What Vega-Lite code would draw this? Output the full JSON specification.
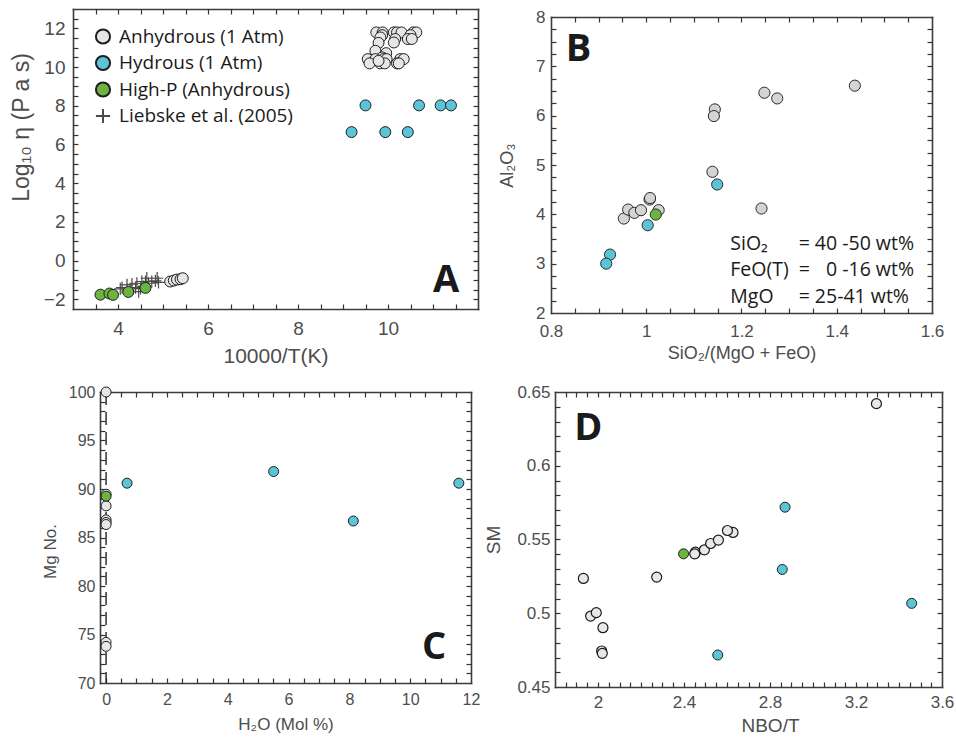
{
  "$schema": "https://vega.github.io/schema/vega-lite/v6.json",
  "background": "white",
  "padding": {"left": 10, "top": 8, "right": 0, "bottom": 0},
  "config": {
    "view": {"stroke": null},
    "font": "Liberation Sans",
    "axis": {
      "grid": false,
      "labelFont": "Liberation Sans",
      "titleFont": "Liberation Sans",
      "labelColor": "#4d4d4d",
      "titleColor": "#4d4d4d",
      "titleFontWeight": "normal",
      "domainColor": "#3c3c3c",
      "domainWidth": 1.6,
      "domainCap": "square",
      "tickColor": "#333333",
      "tickWidth": 1.2,
      "labelFlush": false,
      "labelOverlap": false,
      "labelBound": false
    },
    "legend": {
      "padding": 0,
      "labelFont": "Open Sans",
      "labelFontSize": 19,
      "labelColor": "#1a1a1a",
      "labelLimit": 300,
      "symbolSize": 200,
      "symbolStrokeWidth": 2,
      "rowPadding": 3.5,
      "labelOffset": 6.5
    }
  },
  "datasets": {
    "viscosity": [
      {"invT": 9.74, "logEta": 11.79, "group": "Anhydrous (1 Atm)"},
      {"invT": 9.88, "logEta": 11.79, "group": "Anhydrous (1 Atm)"},
      {"invT": 10.13, "logEta": 11.79, "group": "Anhydrous (1 Atm)"},
      {"invT": 10.2, "logEta": 11.79, "group": "Anhydrous (1 Atm)"},
      {"invT": 10.3, "logEta": 11.79, "group": "Anhydrous (1 Atm)"},
      {"invT": 10.56, "logEta": 11.79, "group": "Anhydrous (1 Atm)"},
      {"invT": 10.63, "logEta": 11.79, "group": "Anhydrous (1 Atm)"},
      {"invT": 9.87, "logEta": 11.65, "group": "Anhydrous (1 Atm)"},
      {"invT": 10.5, "logEta": 11.65, "group": "Anhydrous (1 Atm)"},
      {"invT": 10.16, "logEta": 11.45, "group": "Anhydrous (1 Atm)"},
      {"invT": 10.44, "logEta": 11.45, "group": "Anhydrous (1 Atm)"},
      {"invT": 10.53, "logEta": 11.45, "group": "Anhydrous (1 Atm)"},
      {"invT": 10.13, "logEta": 11.27, "group": "Anhydrous (1 Atm)"},
      {"invT": 9.83, "logEta": 11.53, "group": "Anhydrous (1 Atm)"},
      {"invT": 9.79, "logEta": 11.25, "group": "Anhydrous (1 Atm)"},
      {"invT": 9.72, "logEta": 10.84, "group": "Anhydrous (1 Atm)"},
      {"invT": 9.96, "logEta": 10.72, "group": "Anhydrous (1 Atm)"},
      {"invT": 9.87, "logEta": 10.5, "group": "Anhydrous (1 Atm)"},
      {"invT": 9.55, "logEta": 10.41, "group": "Anhydrous (1 Atm)"},
      {"invT": 9.72, "logEta": 10.41, "group": "Anhydrous (1 Atm)"},
      {"invT": 9.9, "logEta": 10.41, "group": "Anhydrous (1 Atm)"},
      {"invT": 9.97, "logEta": 10.41, "group": "Anhydrous (1 Atm)"},
      {"invT": 10.27, "logEta": 10.41, "group": "Anhydrous (1 Atm)"},
      {"invT": 10.35, "logEta": 10.41, "group": "Anhydrous (1 Atm)"},
      {"invT": 9.59, "logEta": 10.19, "group": "Anhydrous (1 Atm)"},
      {"invT": 9.83, "logEta": 10.19, "group": "Anhydrous (1 Atm)"},
      {"invT": 9.93, "logEta": 10.19, "group": "Anhydrous (1 Atm)"},
      {"invT": 10.2, "logEta": 10.19, "group": "Anhydrous (1 Atm)"},
      {"invT": 10.24, "logEta": 10.19, "group": "Anhydrous (1 Atm)"},
      {"invT": 9.79, "logEta": 10.32, "group": "Anhydrous (1 Atm)"},
      {"invT": 5.16, "logEta": -1.08, "group": "Anhydrous (1 Atm)"},
      {"invT": 5.24, "logEta": -1.03, "group": "Anhydrous (1 Atm)"},
      {"invT": 5.31, "logEta": -0.98, "group": "Anhydrous (1 Atm)"},
      {"invT": 5.39, "logEta": -0.96, "group": "Anhydrous (1 Atm)"},
      {"invT": 5.44, "logEta": -0.91, "group": "Anhydrous (1 Atm)"},
      {"invT": 9.19, "logEta": 6.64, "group": "Hydrous (1 Atm)"},
      {"invT": 9.5, "logEta": 8.02, "group": "Hydrous (1 Atm)"},
      {"invT": 9.94, "logEta": 6.64, "group": "Hydrous (1 Atm)"},
      {"invT": 10.44, "logEta": 6.64, "group": "Hydrous (1 Atm)"},
      {"invT": 10.69, "logEta": 8.02, "group": "Hydrous (1 Atm)"},
      {"invT": 11.17, "logEta": 8.02, "group": "Hydrous (1 Atm)"},
      {"invT": 11.4, "logEta": 8.02, "group": "Hydrous (1 Atm)"},
      {"invT": 3.61, "logEta": -1.76, "group": "High-P (Anhydrous)"},
      {"invT": 3.81, "logEta": -1.7, "group": "High-P (Anhydrous)"},
      {"invT": 3.89, "logEta": -1.77, "group": "High-P (Anhydrous)"},
      {"invT": 4.23, "logEta": -1.62, "group": "High-P (Anhydrous)"},
      {"invT": 4.61, "logEta": -1.41, "group": "High-P (Anhydrous)"},
      {"invT": 4.05, "logEta": -1.46, "group": "Liebske et al. (2005)"},
      {"invT": 4.09, "logEta": -1.39, "group": "Liebske et al. (2005)"},
      {"invT": 4.2, "logEta": -1.25, "group": "Liebske et al. (2005)"},
      {"invT": 4.27, "logEta": -1.46, "group": "Liebske et al. (2005)"},
      {"invT": 4.31, "logEta": -1.22, "group": "Liebske et al. (2005)"},
      {"invT": 4.39, "logEta": -1.39, "group": "Liebske et al. (2005)"},
      {"invT": 4.42, "logEta": -1.17, "group": "Liebske et al. (2005)"},
      {"invT": 4.46, "logEta": -1.6, "group": "Liebske et al. (2005)"},
      {"invT": 4.5, "logEta": -1.43, "group": "Liebske et al. (2005)"},
      {"invT": 4.53, "logEta": -1.08, "group": "Liebske et al. (2005)"},
      {"invT": 4.57, "logEta": -1.34, "group": "Liebske et al. (2005)"},
      {"invT": 4.61, "logEta": -1.08, "group": "Liebske et al. (2005)"},
      {"invT": 4.64, "logEta": -0.91, "group": "Liebske et al. (2005)"},
      {"invT": 4.68, "logEta": -1.17, "group": "Liebske et al. (2005)"},
      {"invT": 4.75, "logEta": -1.08, "group": "Liebske et al. (2005)"},
      {"invT": 4.83, "logEta": -1.05, "group": "Liebske et al. (2005)"},
      {"invT": 4.87, "logEta": -0.91, "group": "Liebske et al. (2005)"},
      {"invT": 4.9, "logEta": -1.12, "group": "Liebske et al. (2005)"}
    ],
    "alumina": [
      {"ratio": 0.953, "al2o3": 3.915, "group": "Anhydrous (1 Atm)"},
      {"ratio": 0.962, "al2o3": 4.097, "group": "Anhydrous (1 Atm)"},
      {"ratio": 0.975, "al2o3": 4.03, "group": "Anhydrous (1 Atm)"},
      {"ratio": 0.989, "al2o3": 4.084, "group": "Anhydrous (1 Atm)"},
      {"ratio": 1.007, "al2o3": 4.3, "group": "Anhydrous (1 Atm)"},
      {"ratio": 1.008, "al2o3": 4.33, "group": "Anhydrous (1 Atm)"},
      {"ratio": 1.026, "al2o3": 4.084, "group": "Anhydrous (1 Atm)"},
      {"ratio": 1.139, "al2o3": 4.862, "group": "Anhydrous (1 Atm)"},
      {"ratio": 1.144, "al2o3": 6.127, "group": "Anhydrous (1 Atm)"},
      {"ratio": 1.142, "al2o3": 5.992, "group": "Anhydrous (1 Atm)"},
      {"ratio": 1.248, "al2o3": 6.465, "group": "Anhydrous (1 Atm)"},
      {"ratio": 1.275, "al2o3": 6.35, "group": "Anhydrous (1 Atm)"},
      {"ratio": 1.242, "al2o3": 4.118, "group": "Anhydrous (1 Atm)"},
      {"ratio": 1.438, "al2o3": 6.608, "group": "Anhydrous (1 Atm)"},
      {"ratio": 1.02, "al2o3": 3.996, "group": "High-P (Anhydrous)"},
      {"ratio": 0.924, "al2o3": 3.184, "group": "Hydrous (1 Atm)"},
      {"ratio": 0.916, "al2o3": 3.001, "group": "Hydrous (1 Atm)"},
      {"ratio": 1.003, "al2o3": 3.779, "group": "Hydrous (1 Atm)"},
      {"ratio": 1.149, "al2o3": 4.605, "group": "Hydrous (1 Atm)"}
    ],
    "mgnumber": [
      {"h2o": 0, "mgNo": 100, "group": "Anhydrous (1 Atm)"},
      {"h2o": 0, "mgNo": 89.46, "group": "Anhydrous (1 Atm)"},
      {"h2o": 0, "mgNo": 88.26, "group": "Anhydrous (1 Atm)"},
      {"h2o": 0, "mgNo": 86.82, "group": "Anhydrous (1 Atm)"},
      {"h2o": 0, "mgNo": 86.55, "group": "Anhydrous (1 Atm)"},
      {"h2o": 0, "mgNo": 86.34, "group": "Anhydrous (1 Atm)"},
      {"h2o": 0, "mgNo": 74.19, "group": "Anhydrous (1 Atm)"},
      {"h2o": 0, "mgNo": 73.78, "group": "Anhydrous (1 Atm)"},
      {"h2o": 0, "mgNo": 89.26, "group": "High-P (Anhydrous)"},
      {"h2o": 0.69, "mgNo": 90.6, "group": "Hydrous (1 Atm)"},
      {"h2o": 5.51, "mgNo": 91.8, "group": "Hydrous (1 Atm)"},
      {"h2o": 8.13, "mgNo": 86.7, "group": "Hydrous (1 Atm)"},
      {"h2o": 11.6, "mgNo": 90.6, "group": "Hydrous (1 Atm)"}
    ],
    "polymerisation": [
      {"nbot": 1.932, "sm": 0.5236, "group": "Anhydrous (1 Atm)"},
      {"nbot": 1.966, "sm": 0.4981, "group": "Anhydrous (1 Atm)"},
      {"nbot": 1.992, "sm": 0.5004, "group": "Anhydrous (1 Atm)"},
      {"nbot": 2.023, "sm": 0.4902, "group": "Anhydrous (1 Atm)"},
      {"nbot": 2.017, "sm": 0.4744, "group": "Anhydrous (1 Atm)"},
      {"nbot": 2.02, "sm": 0.4728, "group": "Anhydrous (1 Atm)"},
      {"nbot": 2.273, "sm": 0.5245, "group": "Anhydrous (1 Atm)"},
      {"nbot": 2.453, "sm": 0.5414, "group": "Anhydrous (1 Atm)"},
      {"nbot": 2.45, "sm": 0.5403, "group": "Anhydrous (1 Atm)"},
      {"nbot": 2.495, "sm": 0.543, "group": "Anhydrous (1 Atm)"},
      {"nbot": 2.524, "sm": 0.5473, "group": "Anhydrous (1 Atm)"},
      {"nbot": 2.56, "sm": 0.5496, "group": "Anhydrous (1 Atm)"},
      {"nbot": 2.628, "sm": 0.5548, "group": "Anhydrous (1 Atm)"},
      {"nbot": 2.602, "sm": 0.5561, "group": "Anhydrous (1 Atm)"},
      {"nbot": 3.295, "sm": 0.6421, "group": "Anhydrous (1 Atm)"},
      {"nbot": 2.398, "sm": 0.5403, "group": "High-P (Anhydrous)"},
      {"nbot": 2.87, "sm": 0.5719, "group": "Hydrous (1 Atm)"},
      {"nbot": 2.857, "sm": 0.5297, "group": "Hydrous (1 Atm)"},
      {"nbot": 2.557, "sm": 0.4717, "group": "Hydrous (1 Atm)"},
      {"nbot": 3.459, "sm": 0.5067, "group": "Hydrous (1 Atm)"}
    ]
  },
  "spacing": 17,
  "vconcat": [
    {
      "spacing": 19,
      "hconcat": [
        {
          "width": 405,
          "height": 300,
          "resolve": {"axis": {"x": "independent", "y": "independent"}},
          "layer": [
            {
              "data": {"name": "viscosity"},
              "transform": [{"filter": "datum.group === 'Liebske et al. (2005)'"}],
              "mark": {"type": "point", "filled": true, "size": 150, "strokeWidth": 1.2, "opacity": 1},
              "encoding": {
                "x": {"field": "invT", "type": "quantitative", "scale": {"domain": [3, 12], "nice": false, "zero": false},
                  "axis": {"orient": "bottom", "values": [4, 6, 8, 10], "format": "~g", "ticks": false, "labelPadding": 10, "labelFontSize": 19, "title": "10000/T(K)", "titleFontSize": 21, "titlePadding": 7}},
                "y": {"field": "logEta", "type": "quantitative", "scale": {"domain": [-2.5, 13], "nice": false, "zero": false},
                  "axis": {"orient": "left", "values": [-2, 0, 2, 4, 6, 8, 10, 12], "format": "~g", "ticks": false, "labelPadding": 8, "labelFontSize": 19, "title": "Log₁₀ η (P a s)", "titleFontSize": 23, "titlePadding": 10, "titleY": 118}},
                "fill": {"field": "group", "type": "nominal", "scale": {"domain": ["Anhydrous (1 Atm)", "Hydrous (1 Atm)", "High-P (Anhydrous)", "Liebske et al. (2005)"], "range": ["#e6e6e6", "#5bc4d7", "#6cb33f", "transparent"]}, "legend": {"title": null, "orient": "none", "legendX": 20.5, "legendY": 18}},
                "stroke": {"field": "group", "type": "nominal", "scale": {"domain": ["Anhydrous (1 Atm)", "Hydrous (1 Atm)", "High-P (Anhydrous)", "Liebske et al. (2005)"], "range": ["#1e1e1e", "#1e1e1e", "#1e1e1e", "#4a4a4a"]}, "legend": {"title": null, "orient": "none", "legendX": 20.5, "legendY": 18}},
                "shape": {"field": "group", "type": "nominal", "scale": {"domain": ["Anhydrous (1 Atm)", "Hydrous (1 Atm)", "High-P (Anhydrous)", "Liebske et al. (2005)"], "range": ["circle", "circle", "circle", "M-1,0L1,0M0,-1L0,1"]}, "legend": {"title": null, "orient": "none", "legendX": 20.5, "legendY": 18}}
              }
            },
            {
              "data": {"name": "viscosity"},
              "transform": [{"filter": "datum.group === 'Anhydrous (1 Atm)'"}],
              "mark": {"type": "point", "filled": true, "size": 120, "strokeWidth": 1, "opacity": 1},
              "encoding": {
                "x": {"field": "invT", "type": "quantitative", "scale": {"domain": [3, 12], "nice": false, "zero": false},
                  "axis": {"orient": "top", "ticks": false, "labels": false, "title": null}},
                "y": {"field": "logEta", "type": "quantitative", "scale": {"domain": [-2.5, 13], "nice": false, "zero": false},
                  "axis": {"orient": "right", "ticks": false, "labels": false, "title": null}},
                "fill": {"field": "group", "type": "nominal", "scale": {"domain": ["Anhydrous (1 Atm)", "Hydrous (1 Atm)", "High-P (Anhydrous)", "Liebske et al. (2005)"], "range": ["#e6e6e6", "#5bc4d7", "#6cb33f", "transparent"]}, "legend": {"title": null, "orient": "none", "legendX": 20.5, "legendY": 18}},
                "stroke": {"field": "group", "type": "nominal", "scale": {"domain": ["Anhydrous (1 Atm)", "Hydrous (1 Atm)", "High-P (Anhydrous)", "Liebske et al. (2005)"], "range": ["#1e1e1e", "#1e1e1e", "#1e1e1e", "#4a4a4a"]}, "legend": {"title": null, "orient": "none", "legendX": 20.5, "legendY": 18}},
                "shape": {"field": "group", "type": "nominal", "scale": {"domain": ["Anhydrous (1 Atm)", "Hydrous (1 Atm)", "High-P (Anhydrous)", "Liebske et al. (2005)"], "range": ["circle", "circle", "circle", "M-1,0L1,0M0,-1L0,1"]}, "legend": {"title": null, "orient": "none", "legendX": 20.5, "legendY": 18}}
              }
            },
            {
              "data": {"name": "viscosity"},
              "transform": [{"filter": "datum.group === 'Hydrous (1 Atm)'"}],
              "mark": {"type": "point", "filled": true, "size": 120, "strokeWidth": 1, "opacity": 1},
              "encoding": {
                "x": {"field": "invT", "type": "quantitative", "scale": {"domain": [3, 12], "nice": false, "zero": false},
                  "axis": {"orient": "bottom", "offset": -5, "values": [3.5, 4, 4.5, 5, 5.5, 6, 6.5, 7, 7.5, 8, 8.5, 9, 9.5, 10, 10.5, 11, 11.5], "ticks": true, "tickSize": 5, "labels": false, "domain": false, "title": null}},
                "y": {"field": "logEta", "type": "quantitative", "scale": {"domain": [-2.5, 13], "nice": false, "zero": false},
                  "axis": {"orient": "left", "offset": -5, "values": [-2, -1.5, -1, -0.5, 0, 0.5, 1, 1.5, 2, 2.5, 3, 3.5, 4, 4.5, 5, 5.5, 6, 6.5, 7, 7.5, 8, 8.5, 9, 9.5, 10, 10.5, 11, 11.5, 12, 12.5], "ticks": true, "tickSize": 5, "labels": false, "domain": false, "title": null}},
                "fill": {"field": "group", "type": "nominal", "scale": {"domain": ["Anhydrous (1 Atm)", "Hydrous (1 Atm)", "High-P (Anhydrous)", "Liebske et al. (2005)"], "range": ["#e6e6e6", "#5bc4d7", "#6cb33f", "transparent"]}, "legend": {"title": null, "orient": "none", "legendX": 20.5, "legendY": 18}},
                "stroke": {"field": "group", "type": "nominal", "scale": {"domain": ["Anhydrous (1 Atm)", "Hydrous (1 Atm)", "High-P (Anhydrous)", "Liebske et al. (2005)"], "range": ["#1e1e1e", "#1e1e1e", "#1e1e1e", "#4a4a4a"]}, "legend": {"title": null, "orient": "none", "legendX": 20.5, "legendY": 18}},
                "shape": {"field": "group", "type": "nominal", "scale": {"domain": ["Anhydrous (1 Atm)", "Hydrous (1 Atm)", "High-P (Anhydrous)", "Liebske et al. (2005)"], "range": ["circle", "circle", "circle", "M-1,0L1,0M0,-1L0,1"]}, "legend": {"title": null, "orient": "none", "legendX": 20.5, "legendY": 18}}
              }
            },
            {
              "data": {"name": "viscosity"},
              "transform": [{"filter": "datum.group === 'High-P (Anhydrous)'"}],
              "mark": {"type": "point", "filled": true, "size": 120, "strokeWidth": 1, "opacity": 1},
              "encoding": {
                "x": {"field": "invT", "type": "quantitative", "scale": {"domain": [3, 12], "nice": false, "zero": false},
                  "axis": {"orient": "top", "offset": -5, "values": [3.5, 4, 4.5, 5, 5.5, 6, 6.5, 7, 7.5, 8, 8.5, 9, 9.5, 10, 10.5, 11, 11.5], "ticks": true, "tickSize": 5, "labels": false, "domain": false, "title": null}},
                "y": {"field": "logEta", "type": "quantitative", "scale": {"domain": [-2.5, 13], "nice": false, "zero": false},
                  "axis": {"orient": "right", "offset": -5, "values": [-2, -1.5, -1, -0.5, 0, 0.5, 1, 1.5, 2, 2.5, 3, 3.5, 4, 4.5, 5, 5.5, 6, 6.5, 7, 7.5, 8, 8.5, 9, 9.5, 10, 10.5, 11, 11.5, 12, 12.5], "ticks": true, "tickSize": 5, "labels": false, "domain": false, "title": null}},
                "fill": {"field": "group", "type": "nominal", "scale": {"domain": ["Anhydrous (1 Atm)", "Hydrous (1 Atm)", "High-P (Anhydrous)", "Liebske et al. (2005)"], "range": ["#e6e6e6", "#5bc4d7", "#6cb33f", "transparent"]}, "legend": {"title": null, "orient": "none", "legendX": 20.5, "legendY": 18}},
                "stroke": {"field": "group", "type": "nominal", "scale": {"domain": ["Anhydrous (1 Atm)", "Hydrous (1 Atm)", "High-P (Anhydrous)", "Liebske et al. (2005)"], "range": ["#1e1e1e", "#1e1e1e", "#1e1e1e", "#4a4a4a"]}, "legend": {"title": null, "orient": "none", "legendX": 20.5, "legendY": 18}},
                "shape": {"field": "group", "type": "nominal", "scale": {"domain": ["Anhydrous (1 Atm)", "Hydrous (1 Atm)", "High-P (Anhydrous)", "Liebske et al. (2005)"], "range": ["circle", "circle", "circle", "M-1,0L1,0M0,-1L0,1"]}, "legend": {"title": null, "orient": "none", "legendX": 20.5, "legendY": 18}}
              }
            },
            {
              "data": {"values": [{}]},
              "mark": {"type": "text", "text": "A", "font": "Open Sans", "fontWeight": "bold", "fontSize": 38, "align": "center", "baseline": "alphabetic", "color": "#1a1a1a"},
              "encoding": {
                "x": {"datum": 11.29, "type": "quantitative", "scale": {"domain": [3, 12], "nice": false, "zero": false}, "axis": null},
                "y": {"datum": -1.6, "type": "quantitative", "scale": {"domain": [-2.5, 13], "nice": false, "zero": false}, "axis": null}
              }
            }
          ]
        },
        {
          "width": 381,
          "height": 304,
          "resolve": {"axis": {"x": "independent", "y": "independent"}},
          "layer": [
            {
              "data": {"name": "alumina"},
              "transform": [{"filter": "datum.group === 'Anhydrous (1 Atm)'"}],
              "mark": {"type": "point", "filled": true, "size": 125, "strokeWidth": 1, "opacity": 1, "fill": "#d4d4d4", "stroke": "#2a2a2a"},
              "encoding": {
                "x": {"field": "ratio", "type": "quantitative", "scale": {"domain": [0.8, 1.6], "nice": false, "zero": false},
                  "axis": {"orient": "bottom", "values": [0.8, 1, 1.2, 1.4, 1.6], "format": "~g", "ticks": false, "labelPadding": 10, "labelFontSize": 17, "title": "SiO₂/(MgO + FeO)", "titleFontSize": 18, "titlePadding": 5}},
                "y": {"field": "al2o3", "type": "quantitative", "scale": {"domain": [2, 8], "range": [304, 8], "nice": false, "zero": false},
                  "axis": {"orient": "left", "values": [2, 3, 4, 5, 6, 7, 8], "format": "~g", "ticks": false, "labelPadding": 6, "labelFontSize": 17, "title": "Al₂O₃", "titleFontSize": 18, "titlePadding": 19}}
              }
            },
            {
              "data": {"name": "alumina"},
              "transform": [{"filter": "datum.group === 'High-P (Anhydrous)'"}],
              "mark": {"type": "point", "filled": true, "size": 125, "strokeWidth": 1, "opacity": 1, "fill": "#6cb33f", "stroke": "#2a2a2a"},
              "encoding": {
                "x": {"field": "ratio", "type": "quantitative", "scale": {"domain": [0.8, 1.6], "nice": false, "zero": false},
                  "axis": {"orient": "top", "offset": -8, "ticks": false, "labels": false, "title": null}},
                "y": {"field": "al2o3", "type": "quantitative", "scale": {"domain": [2, 8], "range": [304, 8], "nice": false, "zero": false},
                  "axis": {"orient": "right", "ticks": false, "labels": false, "title": null}}
              }
            },
            {
              "data": {"name": "alumina"},
              "transform": [{"filter": "datum.group === 'Hydrous (1 Atm)'"}],
              "mark": {"type": "point", "filled": true, "size": 125, "strokeWidth": 1, "opacity": 1, "fill": "#5bc4d7", "stroke": "#2a2a2a"},
              "encoding": {
                "x": {"field": "ratio", "type": "quantitative", "scale": {"domain": [0.8, 1.6], "nice": false, "zero": false},
                  "axis": {"orient": "bottom", "offset": -5, "values": [0.85, 0.9, 0.95, 1, 1.05, 1.1, 1.15, 1.2, 1.25, 1.3, 1.35, 1.4, 1.45, 1.5, 1.55], "ticks": true, "tickSize": 5, "labels": false, "domain": false, "title": null}},
                "y": {"field": "al2o3", "type": "quantitative", "scale": {"domain": [2, 8], "range": [304, 8], "nice": false, "zero": false},
                  "axis": {"orient": "left", "offset": -5, "values": [2.25, 2.5, 2.75, 3, 3.25, 3.5, 3.75, 4, 4.25, 4.5, 4.75, 5, 5.25, 5.5, 5.75, 6, 6.25, 6.5, 6.75, 7, 7.25, 7.5, 7.75], "ticks": true, "tickSize": 5, "labels": false, "domain": false, "title": null}}
              }
            },
            {
              "data": {"values": [{}]},
              "mark": {"type": "text", "text": "B", "font": "Open Sans", "fontWeight": "bold", "fontSize": 38, "align": "center", "baseline": "alphabetic", "color": "#1a1a1a"},
              "encoding": {
                "x": {"datum": 0.858, "type": "quantitative", "scale": {"domain": [0.8, 1.6], "nice": false, "zero": false},
                  "axis": {"orient": "top", "offset": -13, "values": [0.85, 0.9, 0.95, 1, 1.05, 1.1, 1.15, 1.2, 1.25, 1.3, 1.35, 1.4, 1.45, 1.5, 1.55], "ticks": true, "tickSize": 5, "labels": false, "domain": false, "title": null}},
                "y": {"datum": 7.105, "type": "quantitative", "scale": {"domain": [2, 8], "range": [304, 8], "nice": false, "zero": false},
                  "axis": {"orient": "right", "offset": -5, "values": [2.25, 2.5, 2.75, 3, 3.25, 3.5, 3.75, 4, 4.25, 4.5, 4.75, 5, 5.25, 5.5, 5.75, 6, 6.25, 6.5, 6.75, 7, 7.25, 7.5, 7.75], "ticks": true, "tickSize": 5, "labels": false, "domain": false, "title": null}}
              }
            },
            {
              "data": {"values": [{}]},
              "mark": {"type": "text", "text": ["SiO₂", "FeO(T)", "MgO"], "lineHeight": 26.7, "font": "Open Sans", "fontSize": 19.5, "align": "left", "baseline": "alphabetic", "color": "#1a1a1a"},
              "encoding": {
                "x": {"datum": 1.1765, "type": "quantitative", "scale": {"domain": [0.8, 1.6], "nice": false, "zero": false}, "axis": null},
                "y": {"datum": 3.286, "type": "quantitative", "scale": {"domain": [2, 8], "range": [304, 8], "nice": false, "zero": false}, "axis": null}
              }
            },
            {
              "data": {"values": [{}]},
              "mark": {"type": "text", "text": ["= 40 -50 wt%", "= \u20070 -16 wt%", "= 25-41 wt%"], "lineHeight": 26.7, "font": "Open Sans", "fontSize": 19.5, "align": "left", "baseline": "alphabetic", "color": "#1a1a1a"},
              "encoding": {
                "x": {"datum": 1.32, "type": "quantitative", "scale": {"domain": [0.8, 1.6], "nice": false, "zero": false}, "axis": null},
                "y": {"datum": 3.286, "type": "quantitative", "scale": {"domain": [2, 8], "range": [304, 8], "nice": false, "zero": false}, "axis": null}
              }
            }
          ]
        }
      ]
    },
    {
      "spacing": 4,
      "hconcat": [
        {
          "width": 398,
          "height": 291,
          "resolve": {"axis": {"x": "independent", "y": "independent"}},
          "layer": [
            {
              "data": {"values": [{}]},
              "mark": {"type": "rule", "strokeDash": [13, 7], "color": "#222222", "strokeWidth": 1.4},
              "encoding": {
                "x": {"datum": 0, "type": "quantitative", "scale": {"domain": [-0.2, 12], "range": [27, 398], "nice": false, "zero": false}, "axis": null}
              }
            },
            {
              "data": {"name": "mgnumber"},
              "transform": [{"filter": "datum.group === 'Anhydrous (1 Atm)'"}],
              "mark": {"type": "point", "filled": true, "size": 100, "strokeWidth": 1, "opacity": 1, "fill": "#e6e6e6", "stroke": "#1e1e1e"},
              "encoding": {
                "x": {"field": "h2o", "type": "quantitative", "scale": {"domain": [-0.2, 12], "range": [27, 398], "nice": false, "zero": false},
                  "axis": {"orient": "bottom", "values": [0, 2, 4, 6, 8, 10, 12], "format": "d", "ticks": false, "labelPadding": 8, "labelFontSize": 16, "title": "H₂O (Mol %)", "titleFontSize": 17, "titlePadding": 9}},
                "y": {"field": "mgNo", "type": "quantitative", "scale": {"domain": [70, 100], "nice": false, "zero": false},
                  "axis": {"orient": "left", "offset": -27, "values": [70, 75, 80, 85, 90, 95, 100], "format": "d", "ticks": false, "labelPadding": 5, "labelFontSize": 16, "title": "Mg No.", "titleFontSize": 17, "titlePadding": 9, "titleY": 159}}
              }
            },
            {
              "data": {"name": "mgnumber"},
              "transform": [{"filter": "datum.group === 'High-P (Anhydrous)'"}],
              "mark": {"type": "point", "filled": true, "size": 100, "strokeWidth": 1, "opacity": 1, "fill": "#6cb33f", "stroke": "#1e1e1e"},
              "encoding": {
                "x": {"field": "h2o", "type": "quantitative", "scale": {"domain": [-0.2, 12], "range": [27, 398], "nice": false, "zero": false},
                  "axis": {"orient": "top", "ticks": false, "labels": false, "title": null}},
                "y": {"field": "mgNo", "type": "quantitative", "scale": {"domain": [70, 100], "nice": false, "zero": false},
                  "axis": {"orient": "right", "ticks": false, "labels": false, "title": null}}
              }
            },
            {
              "data": {"name": "mgnumber"},
              "transform": [{"filter": "datum.group === 'Hydrous (1 Atm)'"}],
              "mark": {"type": "point", "filled": true, "size": 100, "strokeWidth": 1, "opacity": 1, "fill": "#5bc4d7", "stroke": "#1e1e1e"},
              "encoding": {
                "x": {"field": "h2o", "type": "quantitative", "scale": {"domain": [-0.2, 12], "range": [27, 398], "nice": false, "zero": false},
                  "axis": {"orient": "bottom", "offset": -5, "values": [0, 0.5, 1, 1.5, 2, 2.5, 3, 3.5, 4, 4.5, 5, 5.5, 6, 6.5, 7, 7.5, 8, 8.5, 9, 9.5, 10, 10.5, 11, 11.5], "ticks": true, "tickSize": 5, "labels": false, "domain": false, "title": null}},
                "y": {"field": "mgNo", "type": "quantitative", "scale": {"domain": [70, 100], "nice": false, "zero": false},
                  "axis": {"orient": "left", "offset": -32, "values": [71, 72, 73, 74, 75, 76, 77, 78, 79, 80, 81, 82, 83, 84, 85, 86, 87, 88, 89, 90, 91, 92, 93, 94, 95, 96, 97, 98, 99], "ticks": true, "tickSize": 5, "labels": false, "domain": false, "title": null}}
              }
            },
            {
              "data": {"values": [{}]},
              "mark": {"type": "text", "text": "C", "font": "Open Sans", "fontWeight": "bold", "fontSize": 38, "align": "center", "baseline": "alphabetic", "color": "#1a1a1a"},
              "encoding": {
                "x": {"datum": 10.79, "type": "quantitative", "scale": {"domain": [-0.2, 12], "range": [27, 398], "nice": false, "zero": false},
                  "axis": {"orient": "top", "offset": -5, "values": [0, 0.5, 1, 1.5, 2, 2.5, 3, 3.5, 4, 4.5, 5, 5.5, 6, 6.5, 7, 7.5, 8, 8.5, 9, 9.5, 10, 10.5, 11, 11.5], "ticks": true, "tickSize": 5, "labels": false, "domain": false, "title": null}},
                "y": {"datum": 72.47, "type": "quantitative", "scale": {"domain": [70, 100], "nice": false, "zero": false},
                  "axis": {"orient": "right", "offset": -5, "values": [71, 72, 73, 74, 75, 76, 77, 78, 79, 80, 81, 82, 83, 84, 85, 86, 87, 88, 89, 90, 91, 92, 93, 94, 95, 96, 97, 98, 99], "ticks": true, "tickSize": 5, "labels": false, "domain": false, "title": null}}
              }
            }
          ]
        },
        {
          "width": 387,
          "height": 295,
          "resolve": {"axis": {"x": "independent", "y": "independent"}},
          "layer": [
            {
              "data": {"name": "polymerisation"},
              "transform": [{"filter": "datum.group === 'Anhydrous (1 Atm)'"}],
              "mark": {"type": "point", "filled": true, "size": 100, "strokeWidth": 1.2, "opacity": 1, "fill": "#e8e8e8", "stroke": "#1a1a1a"},
              "encoding": {
                "x": {"field": "nbot", "type": "quantitative", "scale": {"domain": [1.8, 3.6], "nice": false, "zero": false},
                  "axis": {"orient": "bottom", "values": [2, 2.4, 2.8, 3.2, 3.6], "format": "~g", "ticks": false, "labelPadding": 7, "labelFontSize": 17, "title": "NBO/T", "titleFontSize": 19, "titlePadding": 6, "titleX": 215}},
                "y": {"field": "sm", "type": "quantitative", "scale": {"domain": [0.45, 0.65], "nice": false, "zero": false},
                  "axis": {"orient": "left", "values": [0.45, 0.5, 0.55, 0.6, 0.65], "format": "~g", "ticks": false, "labelPadding": 5, "labelFontSize": 17, "title": "SM", "titleFontSize": 19, "titlePadding": 13}}
              }
            },
            {
              "data": {"name": "polymerisation"},
              "transform": [{"filter": "datum.group === 'High-P (Anhydrous)'"}],
              "mark": {"type": "point", "filled": true, "size": 100, "strokeWidth": 1, "opacity": 1, "fill": "#6cb33f", "stroke": "#1e1e1e"},
              "encoding": {
                "x": {"field": "nbot", "type": "quantitative", "scale": {"domain": [1.8, 3.6], "nice": false, "zero": false},
                  "axis": {"orient": "top", "ticks": false, "labels": false, "title": null}},
                "y": {"field": "sm", "type": "quantitative", "scale": {"domain": [0.45, 0.65], "nice": false, "zero": false},
                  "axis": {"orient": "right", "ticks": false, "labels": false, "title": null}}
              }
            },
            {
              "data": {"name": "polymerisation"},
              "transform": [{"filter": "datum.group === 'Hydrous (1 Atm)'"}],
              "mark": {"type": "point", "filled": true, "size": 100, "strokeWidth": 1, "opacity": 1, "fill": "#5bc4d7", "stroke": "#1e1e1e"},
              "encoding": {
                "x": {"field": "nbot", "type": "quantitative", "scale": {"domain": [1.8, 3.6], "nice": false, "zero": false},
                  "axis": {"orient": "bottom", "offset": -5, "values": [1.85, 1.9, 1.95, 2, 2.05, 2.1, 2.15, 2.2, 2.25, 2.3, 2.35, 2.4, 2.45, 2.5, 2.55, 2.6, 2.65, 2.7, 2.75, 2.8, 2.85, 2.9, 2.95, 3, 3.05, 3.1, 3.15, 3.2, 3.25, 3.3, 3.35, 3.4, 3.45, 3.5, 3.55], "ticks": true, "tickSize": 5, "labels": false, "domain": false, "title": null}},
                "y": {"field": "sm", "type": "quantitative", "scale": {"domain": [0.45, 0.65], "nice": false, "zero": false},
                  "axis": {"orient": "left", "offset": -5, "values": [0.46, 0.47, 0.48, 0.49, 0.5, 0.51, 0.52, 0.53, 0.54, 0.55, 0.56, 0.57, 0.58, 0.59, 0.6, 0.61, 0.62, 0.63, 0.64], "ticks": true, "tickSize": 5, "labels": false, "domain": false, "title": null}}
              }
            },
            {
              "data": {"values": [{}]},
              "mark": {"type": "text", "text": "D", "font": "Open Sans", "fontWeight": "bold", "fontSize": 38, "align": "center", "baseline": "alphabetic", "color": "#1a1a1a"},
              "encoding": {
                "x": {"datum": 1.955, "type": "quantitative", "scale": {"domain": [1.8, 3.6], "nice": false, "zero": false},
                  "axis": {"orient": "top", "offset": -5, "values": [1.85, 1.9, 1.95, 2, 2.05, 2.1, 2.15, 2.2, 2.25, 2.3, 2.35, 2.4, 2.45, 2.5, 2.55, 2.6, 2.65, 2.7, 2.75, 2.8, 2.85, 2.9, 2.95, 3, 3.05, 3.1, 3.15, 3.2, 3.25, 3.3, 3.35, 3.4, 3.45, 3.5, 3.55], "ticks": true, "tickSize": 5, "labels": false, "domain": false, "title": null}},
                "y": {"datum": 0.6177, "type": "quantitative", "scale": {"domain": [0.45, 0.65], "nice": false, "zero": false},
                  "axis": {"orient": "right", "offset": -5, "values": [0.46, 0.47, 0.48, 0.49, 0.5, 0.51, 0.52, 0.53, 0.54, 0.55, 0.56, 0.57, 0.58, 0.59, 0.6, 0.61, 0.62, 0.63, 0.64], "ticks": true, "tickSize": 5, "labels": false, "domain": false, "title": null}}
              }
            }
          ]
        }
      ]
    }
  ]
}
